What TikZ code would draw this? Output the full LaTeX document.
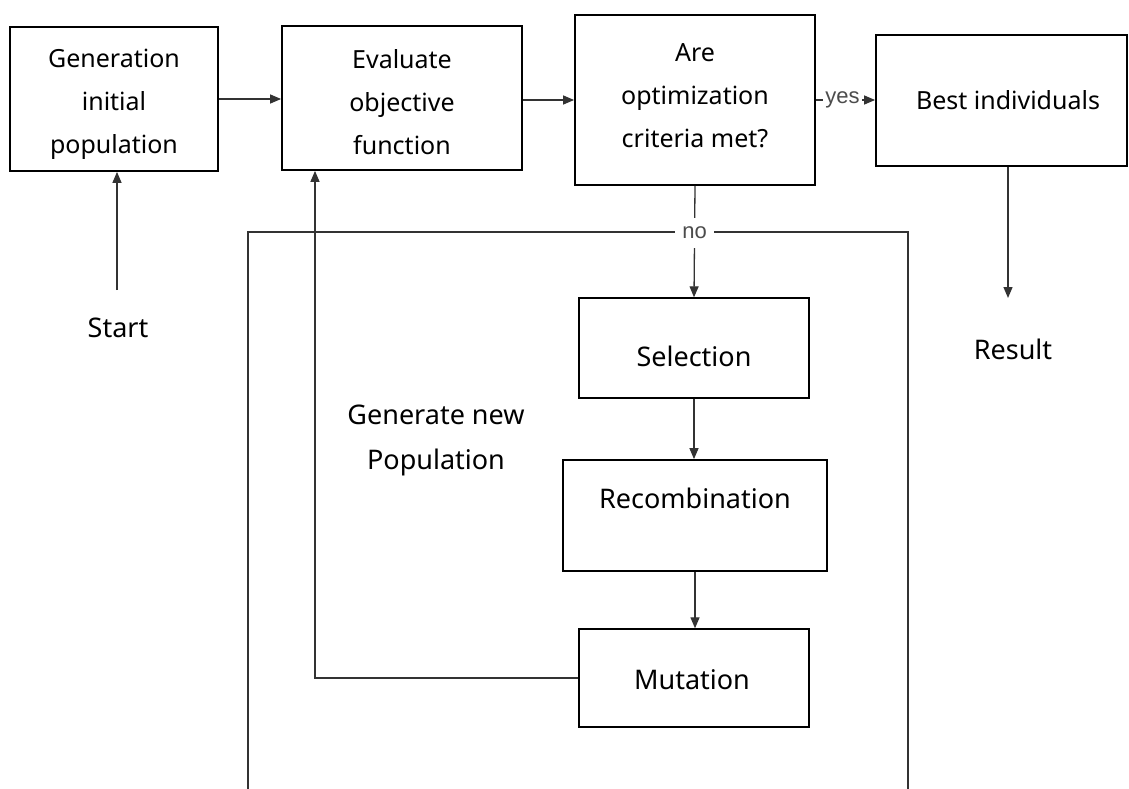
\documentclass[tikz,border=0pt]{standalone}
\usepackage{fontspec}
\setmainfont{Noto Sans}
\newfontfamily\tagfont{Liberation Sans}
\usetikzlibrary{arrows.meta}
\begin{document}
\begin{tikzpicture}[x=1pt,y=-1pt,
  box/.style={draw=black, line width=1.8pt, inner sep=0pt},
  thinbox/.style={box, line width=1.4pt},
  boxtxt/.style={inner sep=0pt, align=center, font=\fontsize{25}{43}\selectfont},
  txt/.style={inner sep=0pt, align=center, font=\fontsize{27}{45}\selectfont},
  conn/.style={draw=black!80, line width=1.3pt, -{Triangle[length=11pt,width=9pt]}},
  frame/.style={draw=black!80, line width=1.3pt},
  tag/.style={fill=white, inner xsep=2pt, inner ysep=1.5pt, text=black!70,
    font=\tagfont\fontsize{22}{22}\selectfont}]
\useasboundingbox (0,0) rectangle (1129,789);

% top row
\node[box, minimum width=208pt, minimum height=144pt] (init) at (114,99) {};
\node[boxtxt] (initlbl) at ([yshift=-5pt]init.center) {Generation\\initial\\population};
\node[box, minimum width=240pt, minimum height=144pt] (eval) at (402,98) {};
\node[boxtxt] (evallbl) at ([yshift=-4pt]eval.center) {Evaluate\\objective\\function};
\node[box, minimum width=240pt, minimum height=170pt] (crit) at (695,100) {};
\node[boxtxt] (critlbl) at ([yshift=4pt]crit.center) {Are\\optimization\\criteria met?};
\node[box, minimum width=251pt, minimum height=131pt] (best) at (1001.5,100.5) {};
\node[boxtxt] (bestlbl) at (1008,100) {Best individuals};

% loop of operators
\node[thinbox, minimum width=230pt, minimum height=100pt] (sel) at (694,348) {};
\node[txt] (sellbl) at (694,356) {Selection};
\node[box, minimum width=264pt, minimum height=111pt] (rec) at (695,515.5) {};
\node[txt] (reclbl) at (695,498) {Recombination};
\node[thinbox, minimum width=230pt, minimum height=98pt] (mut) at (694,678) {};
\node[txt] (mutlbl) at (692,680) {Mutation};

% free labels
\node[txt] (start) at (118,328) {Start};
\node[txt] (result) at (1013,349) {Result};
\node[txt] (gen) at (436,440) {Generate new\\Population};

% frame round the new-population loop
\coordinate (fa) at (248,789);
\coordinate (fb) at (248,232);
\coordinate (fc) at (908,232);
\coordinate (fd) at (908,789);
\draw[frame] (fa) -- (fb) -- (fc) -- (fd);

% connectors
\coordinate (s0) at (117,290);
\coordinate (r0) at (1008,298);
\coordinate (fbx) at (315,0);
\draw[conn] (s0) -- (s0 |- init.south);
\draw[conn] (init.east) -- (init.east -| eval.west);
\draw[conn] (eval.east |- crit.west) -- (crit.west);
\draw[conn] (crit.east) -- node[tag, pos=0.45] {yes} (crit.east -| best.west);
\draw[conn] (r0 |- best.south) -- (r0);
\draw[conn] (crit.south) -- node[tag, pos=0.42, inner xsep=7pt, inner ysep=9pt] {no} (sel.north);
\draw[conn] (sel.south) -- (sel.south |- rec.north);
\draw[conn] (rec.south) -- (rec.south |- mut.north);
\draw[conn] (mut.west) -| (fbx |- eval.south);
\end{tikzpicture}
\end{document}
